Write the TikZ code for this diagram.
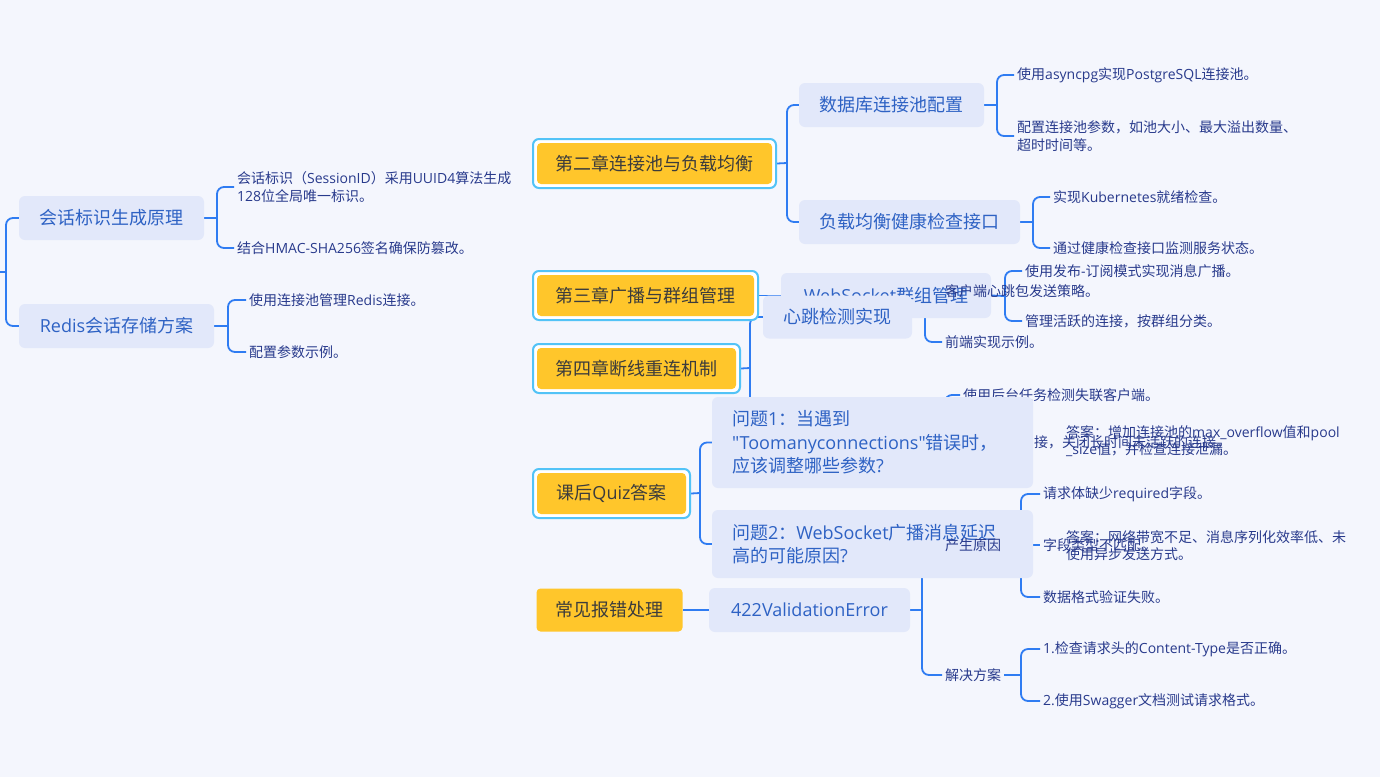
\documentclass[tikz,border=0pt]{standalone}
\usepackage{fontspec}
\newfontfamily\cjk{Noto Sans CJK SC}
\newfontfamily\latn{Open Sans}
\XeTeXinterchartokenstate=1
\newXeTeXintercharclass\cjkcls
\newcount\cjkcnt
\cjkcnt="3000
\loop\ifnum\cjkcnt<"3040 \XeTeXcharclass\cjkcnt=\cjkcls \advance\cjkcnt by 1 \repeat
\cjkcnt="4E00
\loop\ifnum\cjkcnt<"A000 \XeTeXcharclass\cjkcnt=\cjkcls \advance\cjkcnt by 1 \repeat
\cjkcnt="FF00
\loop\ifnum\cjkcnt<"FFF0 \XeTeXcharclass\cjkcnt=\cjkcls \advance\cjkcnt by 1 \repeat
\XeTeXinterchartoks 0 \cjkcls = {\cjk}
\XeTeXinterchartoks 4095 \cjkcls = {\cjk}
\XeTeXinterchartoks \cjkcls 0 = {\latn}
\XeTeXinterchartoks \cjkcls 4095 = {\latn}
\usetikzlibrary{calc}
\definecolor{bgc}{HTML}{F4F6FD}
\definecolor{topicfill}{HTML}{E2E8FA}
\definecolor{topictext}{HTML}{2E62C4}
\definecolor{leaftext}{HTML}{283A8C}
\definecolor{linec}{HTML}{2F7CF2}
\definecolor{yel}{HTML}{FFC62B}
\definecolor{sky}{HTML}{52C3F7}
\definecolor{chaptext}{HTML}{3C3C3C}
\pgfdeclarelayer{background}
\pgfdeclarelayer{lines}
\pgfsetlayers{background,lines,main}
\tikzset{
 topic/.style={rectangle, rounded corners=6pt, fill=topicfill, text=topictext, font=\fontsize{18}{22}\selectfont\latn, inner sep=0pt},
 chap/.style={rectangle, rounded corners=4pt, fill=yel, text=chaptext, font=\fontsize{18}{22}\selectfont\latn, inner sep=0pt},
 chapframe/.style={rectangle, rounded corners=6pt, draw=sky, line width=2pt, fill=white, inner sep=0pt},
 leaf/.style={anchor=west, text=leaftext, font=\fontsize{14}{18}\selectfont\latn, inner xsep=3pt, inner ysep=1pt, align=left},
 ans/.style={anchor=west, text=leaftext, font=\fontsize{14}{17}\selectfont\latn, inner xsep=3pt, inner ysep=1pt, align=left},
 conn/.style={draw=linec, line width=1.8pt, rounded corners=7pt},
 stub/.style={draw=linec, line width=1.8pt},
}
\begin{document}
\begin{tikzpicture}[x=1pt,y=-1pt]
\useasboundingbox (0,0) rectangle (1380,777);
\begin{pgfonlayer}{background}
\fill[bgc] (0,0) rectangle (1380,777);
\end{pgfonlayer}

% ---- left subtree
\coordinate (root) at (0,272);
\coordinate (rb) at (6,272);
\node[topic, minimum width=185pt, minimum height=44pt] (t1) at (111.5,218) {会话标识生成原理};
\node[topic, minimum width=195pt, minimum height=44pt] (t2) at (116.5,326) {Redis会话存储方案};
\coordinate (b1) at (217,218);
\coordinate (b2) at (228,326);
\node[leaf] (l11) at (234,187) {会话标识（SessionID）采用UUID4算法生成\\128位全局唯一标识。};
\node[leaf] (l12) at (234,248) {结合HMAC-SHA256签名确保防篡改。};
\node[leaf] (l21) at (246,300) {使用连接池管理Redis连接。};
\node[leaf] (l22) at (246,352) {配置参数示例。};

% ---- chapter 2
\node[chapframe, minimum width=243pt, minimum height=49pt] (f2) at (654.5,163.5) {};
\node[chap, minimum width=235pt, minimum height=41pt] (c2) at (654.5,163.5) {第二章连接池与负载均衡};
\coordinate (bc2) at (787,163);
\node[topic, minimum width=185pt, minimum height=44pt] (t3) at (891.5,105) {数据库连接池配置};
\node[topic, minimum width=221pt, minimum height=44pt] (t4) at (909.5,222) {负载均衡健康检查接口};
\coordinate (b3) at (997,105);
\coordinate (b4) at (1033,222);
\node[leaf] (l31) at (1014,75) {使用asyncpg实现PostgreSQL连接池。};
\node[leaf] (l32) at (1014,136) {配置连接池参数，如池大小、最大溢出数量、\\超时时间等。};
\node[leaf] (l41) at (1050,197) {实现Kubernetes就绪检查。};
\node[leaf] (l42) at (1050,248) {通过健康检查接口监测服务状态。};

% ---- chapter 3
\node[chapframe, minimum width=225pt, minimum height=49pt] (f3) at (645.5,295.5) {};
\node[chap, minimum width=217pt, minimum height=41pt] (c3) at (645.5,295.5) {第三章广播与群组管理};
\node[topic, minimum width=210pt, minimum height=45pt] (t5) at (886,295.5) {WebSocket群组管理};
\coordinate (b5) at (1005,296);
\node[leaf] (l51) at (1022,271) {使用发布-订阅模式实现消息广播。};
\node[leaf] (l52) at (1022,321) {管理活跃的连接，按群组分类。};

% ---- chapter 4
\node[chapframe, minimum width=207pt, minimum height=49pt] (f4) at (636.5,368.5) {};
\node[chap, minimum width=199pt, minimum height=41pt] (c4) at (636.5,368.5) {第四章断线重连机制};
\coordinate (bc4) at (750,368);
\coordinate (h1) at (763,419);
\node[topic, minimum width=149pt, minimum height=43pt] (t6) at (837.5,317) {心跳检测实现};
\coordinate (b6) at (925,317);
\coordinate (bh) at (945,419);
\node[leaf] (l61) at (942,291) {客户端心跳包发送策略。};
\node[leaf] (l62) at (942,342) {前端实现示例。};
\node[leaf] (l71) at (960,395) {使用后台任务检测失联客户端。};
\node[leaf] (l72) at (1031,442) {接，关闭长时间未活跃的连接。};

% ---- quiz
\node[chapframe, minimum width=157pt, minimum height=49pt] (f5) at (611.5,493.5) {};
\node[chap, minimum width=149pt, minimum height=41pt] (c5) at (611.5,493.5) {课后Quiz答案};
\coordinate (bc5) at (700,493);
\node[topic, text width=281pt, align=left, inner xsep=20pt, minimum height=91pt, font=\fontsize{18}{23.5}\selectfont\latn] (q1) at (872.5,442.5) {问题1：当遇到\\"Toomanyconnections"错误时，\\应该调整哪些参数?};
\node[topic, text width=281pt, align=left, inner xsep=20pt, minimum height=68pt, font=\fontsize{18}{23.5}\selectfont\latn] (q2) at (872.5,544) {问题2：WebSocket广播消息延迟\\高的可能原因?};
\node[ans] (a1) at (1063,441.5) {答案：增加连接池的max\_overflow值和pool\\\_size值，并检查连接泄漏。};
\node[ans] (a2) at (1063,545.5) {答案：网络带宽不足、消息序列化效率低、未\\使用异步发送方式。};

% ---- errors
\node[chap, minimum width=146pt, minimum height=43pt] (c6) at (609.5,610) {常见报错处理};
\node[topic, minimum width=201pt, minimum height=44pt] (t7) at (809.5,610) {422ValidationError};
\coordinate (b7) at (922,610);
\node[leaf] (s1) at (942,545) {产生原因};
\node[leaf] (s2) at (942,675) {解决方案};
\coordinate (bs1) at (1021,545);
\coordinate (bs2) at (1021,675);
\node[leaf] (l81) at (1040,494) {请求体缺少required字段。};
\node[leaf] (l82) at (1040,545) {字段类型不匹配。};
\node[leaf] (l83) at (1040,597) {数据格式验证失败。};
\node[leaf] (l91) at (1040,649) {1.检查请求头的Content-Type是否正确。};
\node[leaf] (l92) at (1040,701) {2.使用Swagger文档测试请求格式。};

% ---- connectors
\begin{pgfonlayer}{lines}
\draw[stub] (root) -- (rb);
\draw[conn] (rb) |- (t1.west);
\draw[conn] (rb) |- (t2.west);
\draw[stub] (t1.east) -- (b1);
\draw[conn] (b1) |- (l11.west);
\draw[conn] (b1) |- (l12.west);
\draw[stub] (t2.east) -- (b2);
\draw[conn] (b2) |- (l21.west);
\draw[conn] (b2) |- (l22.west);

\draw[stub] (f2.east) -- (bc2);
\draw[conn] (bc2) |- (t3.west);
\draw[conn] (bc2) |- (t4.west);
\draw[stub] (t3.east) -- (b3);
\draw[conn] (b3) |- (l31.west);
\draw[conn] (b3) |- (l32.west);
\draw[stub] (t4.east) -- (b4);
\draw[conn] (b4) |- (l41.west);
\draw[conn] (b4) |- (l42.west);

\draw[stub] (f3.east) -- (t5.west);
\draw[stub] (t5.east) -- (b5);
\draw[conn] (b5) |- (l51.west);
\draw[conn] (b5) |- (l52.west);

\draw[stub] (f4.east) -- (bc4);
\draw[conn] (bc4) |- (t6.west);
\draw[conn] (bc4) |- (h1);
\draw[stub] (t6.east) -- (b6);
\draw[conn] (b6) |- (l61.west);
\draw[conn] (b6) |- (l62.west);
\draw[conn] (bh) |- (l71.west);
\draw[conn] (bh) |- (l72.west);

\draw[stub] (f5.east) -- (bc5);
\draw[conn] (bc5) |- (q1.west);
\draw[conn] (bc5) |- (q2.west);

\draw[stub] (c6.east) -- (t7.west);
\draw[stub] (t7.east) -- (b7);
\draw[conn] (b7) |- (s1.west);
\draw[conn] (b7) |- (s2.west);
\draw[stub] (s1.east) -- (bs1);
\draw[conn] (bs1) |- (l81.west);
\draw[stub] (bs1) -- (l82.west);
\draw[conn] (bs1) |- (l83.west);
\draw[stub] (s2.east) -- (bs2);
\draw[conn] (bs2) |- (l91.west);
\draw[conn] (bs2) |- (l92.west);
\end{pgfonlayer}
\end{tikzpicture}
\end{document}
